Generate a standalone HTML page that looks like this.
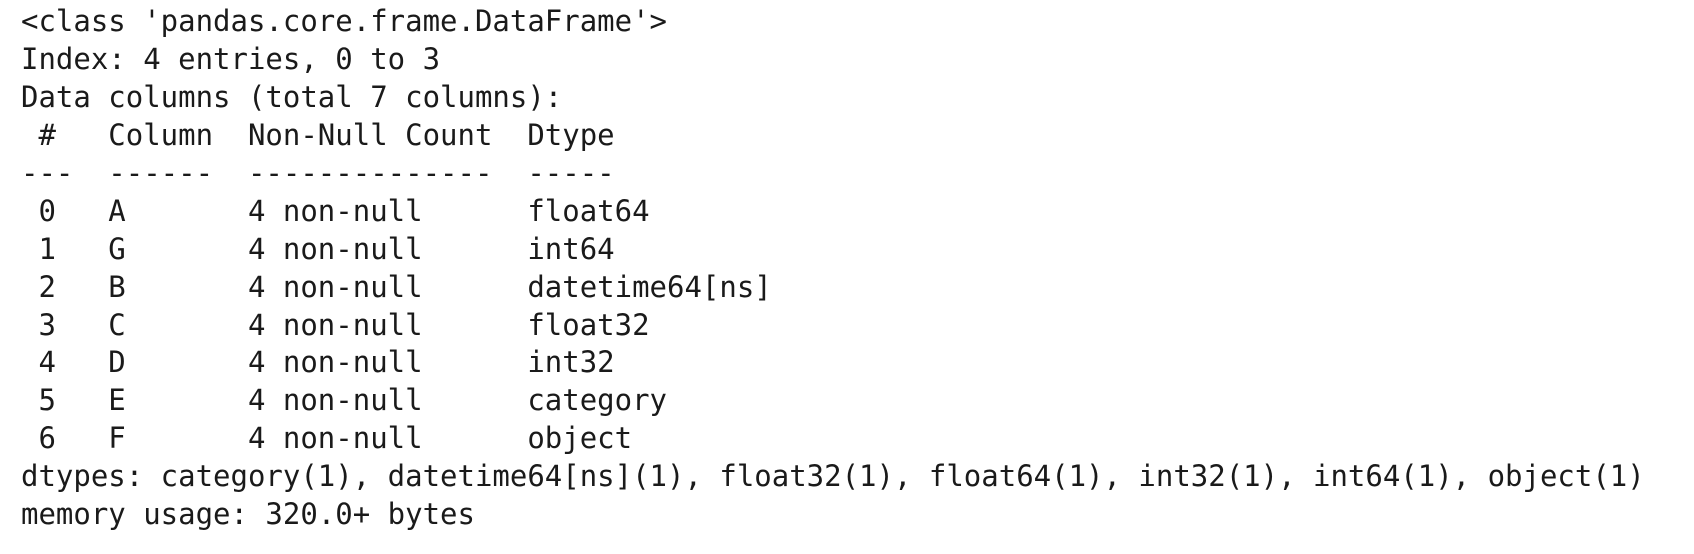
<!DOCTYPE html>
<html><head><meta charset="utf-8"><style>
html,body{margin:0;padding:0;background:#fff;width:1694px;height:554px;overflow:hidden}
pre{margin:0;position:absolute;left:21px;top:3px;font-family:"DejaVu Sans Mono","Liberation Mono",monospace;font-size:29px;line-height:37.93px;color:#1a1a1a}
</style></head><body>
<pre>&lt;class 'pandas.core.frame.DataFrame'&gt;
Index: 4 entries, 0 to 3
Data columns (total 7 columns):
 #   Column  Non-Null Count  Dtype
---  ------  --------------  -----
 0   A       4 non-null      float64
 1   G       4 non-null      int64
 2   B       4 non-null      datetime64[ns]
 3   C       4 non-null      float32
 4   D       4 non-null      int32
 5   E       4 non-null      category
 6   F       4 non-null      object
dtypes: category(1), datetime64[ns](1), float32(1), float64(1), int32(1), int64(1), object(1)
memory usage: 320.0+ bytes</pre>
</body></html>
